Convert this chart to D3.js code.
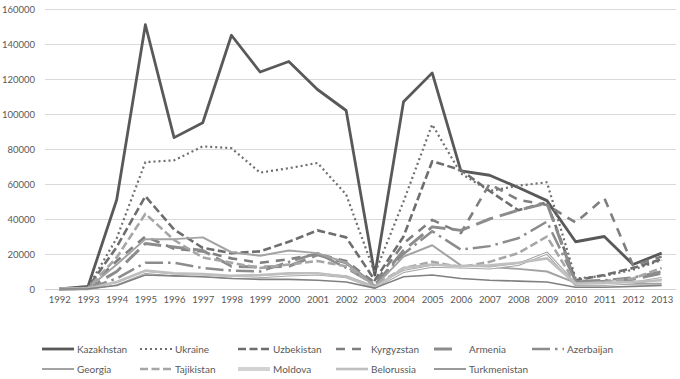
<!DOCTYPE html>
<html><head><meta charset="utf-8">
<script src="https://cdn.jsdelivr.net/npm/d3@7"></script>
<style>
html,body{margin:0;padding:0;background:#fff;}
svg{display:block;font-family:Lato,"Liberation Sans",sans-serif;}
</style></head>
<body><svg id="c" width="680" height="379"></svg>
<script>
const years = ["1992","1993","1994","1995","1996","1997","1998","1999","2000","2001","2002","2003","2004","2005","2006","2007","2008","2009","2010","2011","2012","2013"];
const yTicks = [0,20000,40000,60000,80000,100000,120000,140000,160000];
const kazakhstan = [0,1500,51000,151000,86500,95000,145000,124000,130000,114000,102000,8000,107000,123500,67500,65000,58000,50500,27000,30000,14000,20500];
const ukraine    = [0,1000,29000,72500,73500,81500,80500,66500,69000,72000,54000,9000,50000,94000,66000,56000,59000,61000,6000,7500,11000,16500];
const uzbekistan = [0,800,24000,53000,34000,23500,20500,21500,27000,33500,29500,5000,30000,73000,68000,56000,45000,49500,5000,8000,12000,17000];
const kyrgyzstan = [0,700,16000,30000,23000,21500,17500,15000,17000,20000,16000,3500,26000,39500,32000,60000,51000,48000,38000,52000,13500,18500];
const armenia    = [0,300,10000,26000,24000,22000,13000,12500,13000,19500,15000,2000,22000,35500,33500,40000,45000,49000,4000,4500,5500,9000];
const azerbaijan = [0,200,6000,15000,15000,12000,10500,10000,15500,20500,12000,2500,20000,33000,22500,24500,29000,38500,4500,5000,6500,10000];
const georgia    = [0,400,14000,28500,28500,29500,21000,19000,22000,20500,15000,1500,18500,25000,13500,12500,11500,10000,3500,3000,3000,3000];
const tajikistan = [0,500,18000,43000,28000,18000,15000,12000,14000,16000,13000,2000,12000,15500,12500,15500,20500,30000,3000,4000,6000,12000];
const moldova    = [0,200,3000,9500,8000,7500,6500,7000,8000,8500,7000,1000,10000,13000,12500,12000,14000,20500,2500,2500,3500,6000];
const belorussia = [0,300,4000,10500,9000,8500,7500,8000,9000,9000,7000,800,12000,14000,13000,13500,15000,17500,3000,3500,4000,5000];
const turkmenistan = [0,100,2000,8000,7500,7000,6000,5500,5500,5000,4000,500,7000,8000,6000,5000,4500,4000,1000,1000,1500,2000];

const series = [
  {name:"Kazakhstan", values:kazakhstan, color:"#595959", w:2.8, dash:null},
  {name:"Ukraine", values:ukraine, color:"#6e6e6e", w:2.2, dash:"2,3"},
  {name:"Uzbekistan", values:uzbekistan, color:"#6e6e6e", w:2.6, dash:"8,3.5"},
  {name:"Kyrgyzstan", values:kyrgyzstan, color:"#7f7f7f", w:2.6, dash:"9,7"},
  {name:"Armenia", values:armenia, color:"#8c8c8c", w:3, dash:"18,7", legDash:"18,20"},
  {name:"Azerbaijan", values:azerbaijan, color:"#8c8c8c", w:2.5, dash:"18,5,2.5,5"},
  {name:"Georgia", values:georgia, color:"#a3a3a3", w:2, dash:null},
  {name:"Tajikistan", values:tajikistan, color:"#a6a6a6", w:2.6, dash:"8,3.5"},
  {name:"Moldova", values:moldova, color:"#a6a6a6", w:3, dash:null, dbl:true},
  {name:"Belorussia", values:belorussia, color:"#bfbfbf", w:2.6, dash:null},
  {name:"Turkmenistan", values:turkmenistan, color:"#808080", w:1.6, dash:null}
];

const svg = d3.select("#c");
const x = d3.scalePoint().domain(years).range([45,676]).padding(0.5);
const y = d3.scaleLinear().domain([0,160000]).range([289,9]);

svg.append("g").selectAll("line").data(yTicks).join("line")
  .attr("x1",45).attr("x2",676)
  .attr("y1",d=>y(d)).attr("y2",d=>y(d))
  .attr("stroke",d=>d===0?"#d0d0d0":"#d9d9d9").attr("stroke-width",1)
  .attr("shape-rendering","crispEdges");

const yAxis = svg.append("g").attr("transform","translate(45,0)")
  .call(d3.axisLeft(y).tickValues(yTicks).tickSize(0).tickPadding(10).tickFormat(d3.format("d")));
yAxis.select(".domain").remove();
yAxis.selectAll("text").attr("fill","#595959").style("font-size","9.5px").style("font-family","Lato,'Liberation Sans',sans-serif");

const xAxis = svg.append("g").attr("transform","translate(0,289)")
  .call(d3.axisBottom(x).tickSize(0).tickPadding(7));
xAxis.select(".domain").remove();
xAxis.selectAll("text").attr("fill","#595959").style("font-size","9.5px").style("font-family","Lato,'Liberation Sans',sans-serif");

const line = d3.line().x((d,i)=>x(years[i])).y(d=>y(d));

const g = svg.append("g");
series.forEach(s=>{
  g.append("path").attr("d",line(s.values)).attr("fill","none")
    .attr("stroke",s.color).attr("stroke-width",s.w)
    .attr("stroke-dasharray",s.dash).attr("stroke-linejoin","round");
  if(s.dbl){
    g.append("path").attr("d",line(s.values)).attr("fill","none")
      .attr("stroke","#ffffff").attr("stroke-width",1).attr("stroke-linejoin","round");
  }
});

const leg = svg.append("g");
series.forEach((s,i)=>{
  const col = i%6, row = Math.floor(i/6);
  const lx = 42 + col*98, ly = 349 + row*20;
  leg.append("line").attr("x1",lx).attr("x2",lx+32).attr("y1",ly).attr("y2",ly)
    .attr("stroke",s.color).attr("stroke-width",s.w).attr("stroke-dasharray",s.legDash||s.dash);
  if(s.dbl){
    leg.append("line").attr("x1",lx).attr("x2",lx+32).attr("y1",ly).attr("y2",ly)
      .attr("stroke","#fff").attr("stroke-width",1);
  }
  leg.append("text").attr("x",lx+35).attr("y",ly).attr("dy","0.35em")
    .attr("fill","#595959").style("font-size","10px").text(s.name);
});
</script></body></html>
